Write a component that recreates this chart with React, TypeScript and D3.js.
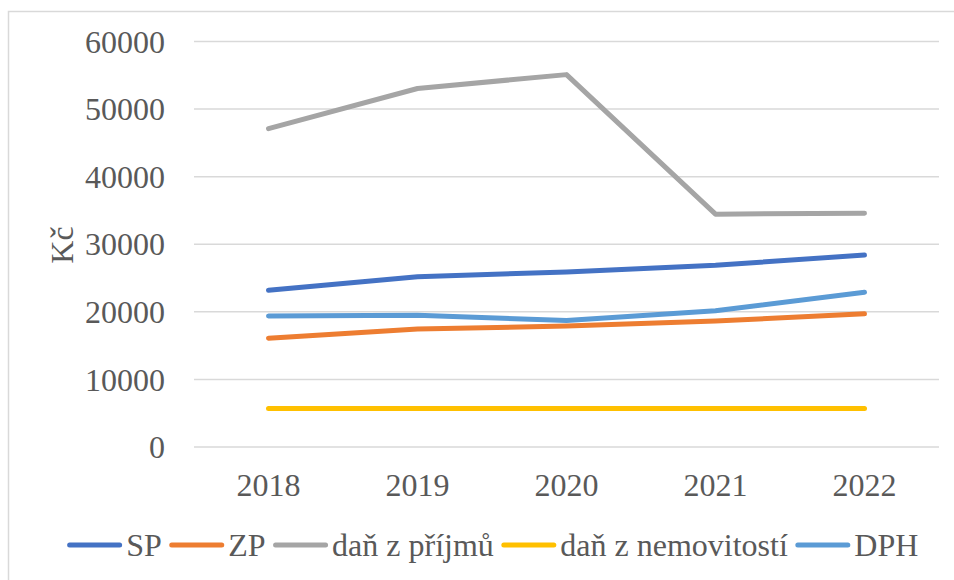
import React from "react";
import * as d3 from "d3";

const years = ["2018", "2019", "2020", "2021", "2022"];
const seriesNames = ["SP", "ZP", "daň z příjmů", "daň z nemovitostí", "DPH"];
const spValues = [23200, 25200, 25900, 26900, 28400];
const zpValues = [16100, 17450, 17900, 18650, 19700];
const danPrijmuValues = [47100, 53050, 55100, 34450, 34600];
const danNemovitostiValues = [5700, 5700, 5700, 5700, 5700];
const dphValues = [19400, 19500, 18700, 20150, 22900];
const colors = ["#4472C4", "#ED7D31", "#A5A5A5", "#FFC000", "#5B9BD5"];
const yTicks = [0, 10000, 20000, 30000, 40000, 50000, 60000];

const W = 954;
const H = 580;
const FONT = "Liberation Serif";
const FS = 32;
const TEXT = "#595959";

function measure(s: string): number {
  const c = document.createElement("canvas").getContext("2d");
  if (!c) return s.length * FS * 0.45;
  c.font = `${FS}px "${FONT}"`;
  return c.measureText(s).width;
}

export default function App() {
  const allSeries = [spValues, zpValues, danPrijmuValues, danNemovitostiValues, dphValues];
  const x = d3.scaleBand<string>().domain(years).range([194, 939]);
  const y = d3.scaleLinear().domain([0, 60000]).range([447, 41.5]);
  const cx = (i: number) => (x(years[i]) as number) + x.bandwidth() / 2;
  const line = d3.line<number>().x((_, i) => cx(i)).y((d) => y(d));

  const lineLen = 50;
  const cap = 2.5;
  const gapAfterLine = 6.5;
  const gapAfterText = 10;
  const legendY = 545;
  const widths = seriesNames.map((n) => lineLen + gapAfterLine + measure(n));
  const total = d3.sum(widths) + gapAfterText * (widths.length - 1);
  let acc = 491.5 - total / 2;
  const offsets = widths.map((w) => {
    const o = acc;
    acc += w + gapAfterText;
    return o;
  });

  const textStyle = { fontFamily: FONT, fontSize: `${FS}px` };

  return (
    <svg
      width={W}
      height={H}
      style={{ position: "absolute", left: 0, top: 0, background: "white" }}
    >
      <rect x={8.5} y={11.5} width={980} height={600} fill="white" stroke="#d9d9d9" strokeWidth={1.5} />
      {yTicks.map((t) => (
        <line key={`g${t}`} x1={194} x2={939} y1={y(t)} y2={y(t)} stroke="#d9d9d9" strokeWidth={1.5} />
      ))}
      {yTicks.map((t) => (
        <text key={`t${t}`} x={165} y={y(t)} dy="0.35em" textAnchor="end" fill={TEXT} style={textStyle}>
          {t}
        </text>
      ))}
      {years.map((yr, i) => (
        <text key={yr} x={cx(i)} y={496} textAnchor="middle" fill={TEXT} style={textStyle}>
          {yr}
        </text>
      ))}
      <text transform="translate(73,245) rotate(-90)" textAnchor="middle" fill={TEXT} style={textStyle}>
        Kč
      </text>
      {allSeries.map((s, i) => (
        <path
          key={seriesNames[i]}
          d={line(s) || ""}
          fill="none"
          stroke={colors[i]}
          strokeWidth={5}
          strokeLinecap="round"
          strokeLinejoin="round"
        />
      ))}
      {seriesNames.map((n, i) => (
        <g key={`l${n}`} transform={`translate(${offsets[i] + cap},${legendY})`}>
          <line x1={0} x2={lineLen} y1={0} y2={0} stroke={colors[i]} strokeWidth={5} strokeLinecap="round" />
          <text x={lineLen + gapAfterLine} y={0} dy="0.35em" fill={TEXT} style={textStyle}>
            {n}
          </text>
        </g>
      ))}
    </svg>
  );
}
